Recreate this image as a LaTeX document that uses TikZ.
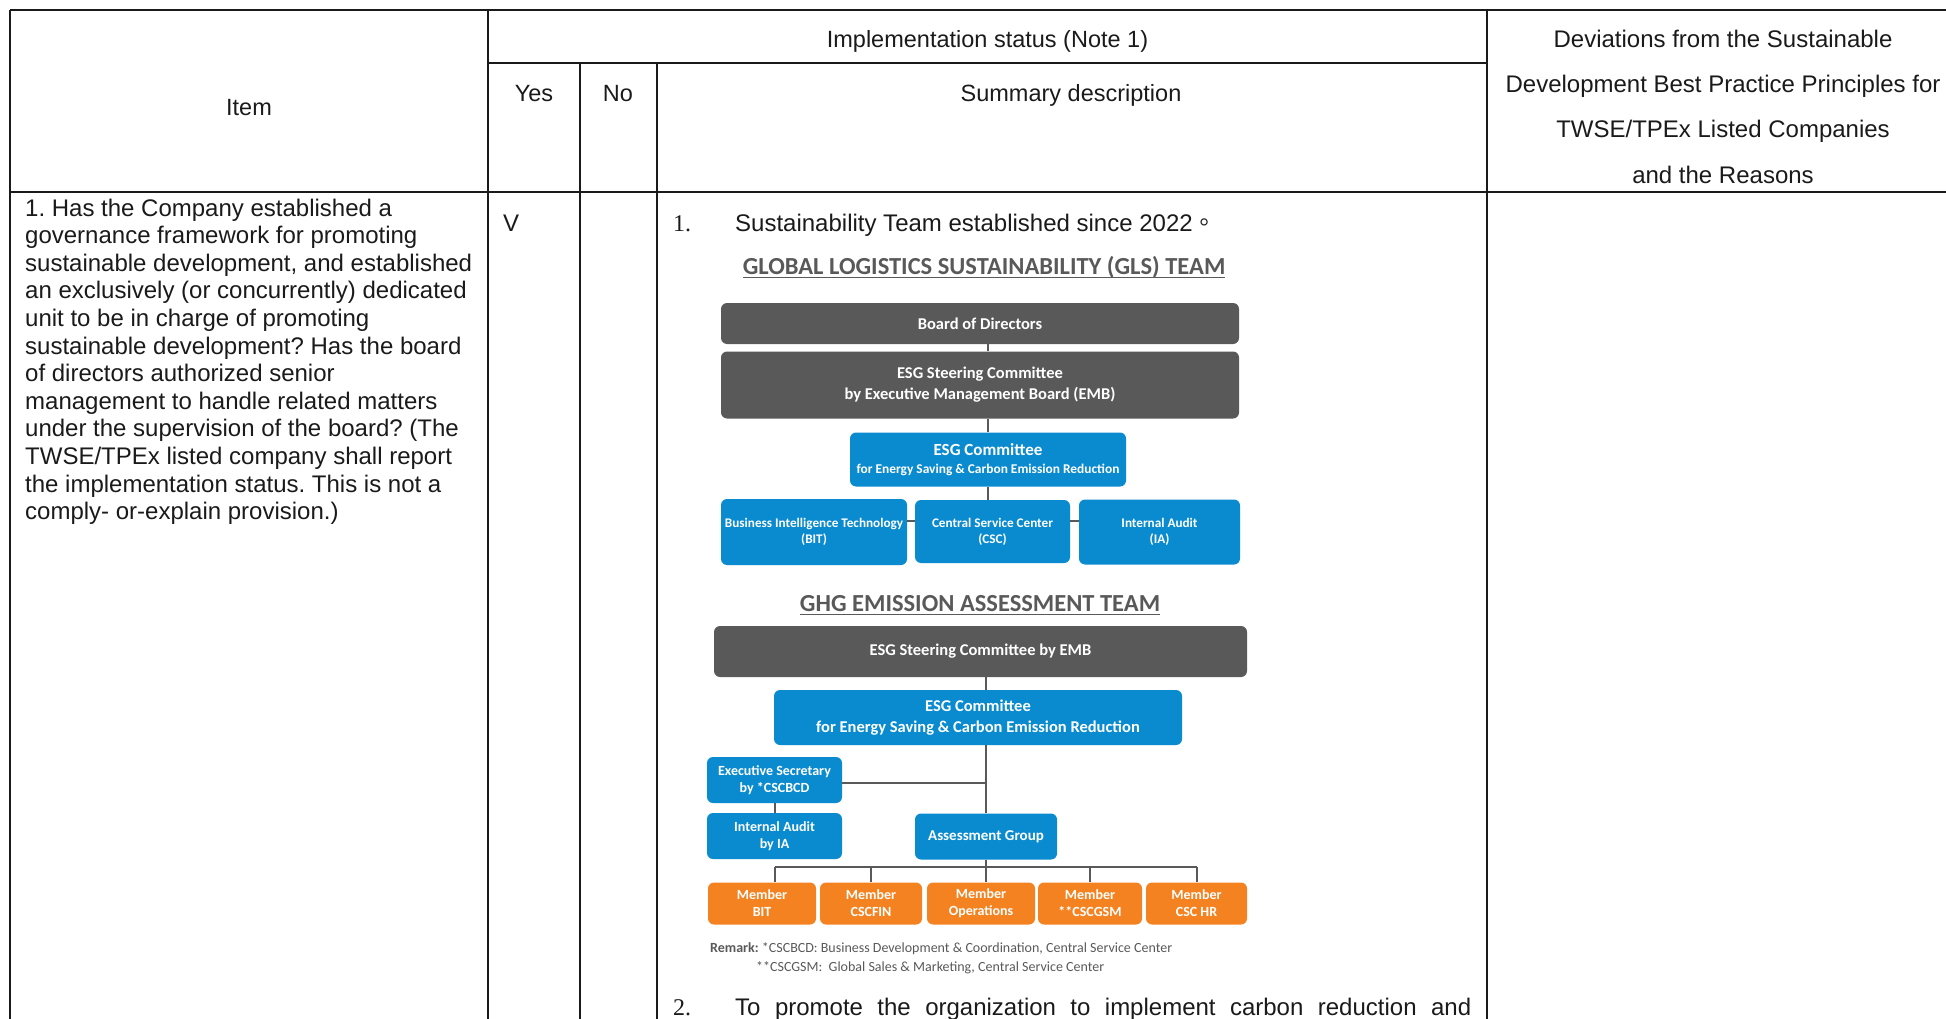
\documentclass[tikz,border=0pt]{standalone}
\usepackage{fontspec}
\setmainfont{Liberation Sans}
\newfontfamily\calfont{Carlito}
\newfontfamily\serfont{Liberation Serif}
\newfontfamily\cjkfont{Noto Sans CJK TC}
\definecolor{boxgray}{HTML}{595959}
\definecolor{boxblue}{HTML}{0A8BCF}
\definecolor{boxorange}{HTML}{F58220}
\definecolor{ink}{HTML}{1A1A1A}
\newcommand{\fsz}[2]{\fontsize{#1}{#2}\selectfont}
\frenchspacing

\begin{document}
\begin{tikzpicture}[x=1pt, y=-1pt,
  every node/.style={inner sep=0pt, text=ink},
  rule/.style={line width=2.4pt, draw=ink},
  cell/.style={font=\fsz{23.5}{28}, anchor=base},
  body/.style={font=\fsz{24}{27.6}},
  unit/.style={rounded corners=6pt, text=white, align=center, font=\calfont\bfseries\fsz{14}{17}},
  darkbox/.style={unit, fill=boxgray},
  bluebox/.style={unit, fill=boxblue},
  orangebox/.style={unit, fill=boxorange, minimum height=42pt},
  link/.style={line width=2pt, draw=boxgray},
  title/.style={font=\calfont\bfseries\fsz{24.5}{28}, text=boxgray, anchor=base},
  note/.style={font=\calfont\fsz{14}{16}, text=boxgray, anchor=base west}]
  \useasboundingbox (0,0) rectangle (1946,1019);
  \draw[rule] (10,10) -- (1960,10);
  \draw[rule] (488,63) -- (1487,63);
  \draw[rule] (10,192) -- (1960,192);
  \draw[rule] (10,10) -- (10,1030);
  \draw[rule] (488,10) -- (488,1030);
  \draw[rule] (580,63) -- (580,1030);
  \draw[rule] (657,63) -- (657,1030);
  \draw[rule] (1487,10) -- (1487,1030);
  \node[cell] (status) at (987.5,47.5) {Implementation status (Note 1)};
  \node[cell] (item) at (249,116) {Item};
  \node[cell] (yes) at (534,102) {Yes};
  \node[cell] (no) at (618,102) {No};
  \node[cell] (summary) at (1071,102) {Summary description};
  \node[font=\fsz{24}{45.3}, align=center, anchor=north] (deviation) at (1723,29.8) {Deviations from the Sustainable\\Development Best Practice Principles for\\TWSE/TPEx Listed Companies\\and the Reasons};
  \node[body, align=left, anchor=north west] (question) at (25,198.5) {1. Has the Company established a\\governance framework for promoting\\sustainable development, and established\\an exclusively (or concurrently) dedicated\\unit to be in charge of promoting\\sustainable development? Has the board\\of directors authorized senior\\management to handle related matters\\under the supervision of the board? (The\\TWSE/TPEx listed company shall report\\the implementation status. This is not a\\comply- or-explain provision.)};
  \node[body, anchor=base west] (tick) at (503,231.5) {V};
  \node[font=\serfont\fsz{24}{28}, anchor=base west] (num1) at (673,231.5) {1.};
  \node[body, anchor=base west] (point1) at (735,231.5) {Sustainability Team established since 2022{\cjkfont 。}};
  % GLS team
  \node[title] (glstitle) at (984,274) {GLOBAL LOGISTICS SUSTAINABILITY (GLS) TEAM};
  \draw[boxgray, line width=1.8pt] ([yshift=-3.5pt]glstitle.base west) -- ([yshift=-3.5pt]glstitle.base east);
  \node[darkbox, minimum width=518pt, minimum height=41pt, font=\calfont\bfseries\fsz{16.5}{21}] (board) at (980,323.5) {Board of Directors};
  \node[darkbox, minimum width=518pt, minimum height=67pt, font=\calfont\bfseries\fsz{16.5}{21}] (steer) at (980,385) {ESG Steering Committee\\by Executive Management Board (EMB)};
  \node[bluebox, minimum width=276pt, minimum height=54pt, font=\calfont\bfseries\fsz{13.4}{18}] (esgc) at (988,459.5) {{\fsz{17}{18}ESG Committee}\\for Energy Saving \& Carbon Emission Reduction};
  \node[bluebox, minimum width=186pt, minimum height=66pt, font=\calfont\bfseries\fsz{13.2}{16}] (bit) at (814,532) {Business Intelligence Technology\\(BIT)};
  \node[bluebox, minimum width=155pt, minimum height=63pt, font=\calfont\bfseries\fsz{13.2}{16}] (csc) at (992.5,531.5) {Central Service Center\\(CSC)};
  \node[bluebox, minimum width=161pt, minimum height=65pt, font=\calfont\bfseries\fsz{13.2}{16}] (ia) at (1159.5,532) {Internal Audit\\(IA)};
  \draw[link] (board.south -| esgc.north) -- (steer.north -| esgc.north);
  \draw[link] (steer.south -| esgc.north) -- (esgc.north);
  \draw[link] (esgc.south) -- (esgc.south |- csc.north);
  \draw[link] ([yshift=11pt]bit.east) -- ([yshift=11pt]bit.east -| csc.west);
  \draw[link] ([yshift=11pt]csc.east) -- ([yshift=11pt]csc.east -| ia.west);
  % GHG team
  \node[title] (ghgtitle) at (980,611) {GHG EMISSION ASSESSMENT TEAM};
  \draw[boxgray, line width=1.8pt] ([yshift=-3.5pt]ghgtitle.base west) -- ([yshift=-3.5pt]ghgtitle.base east);
  \node[darkbox, minimum width=533pt, minimum height=51pt, font=\calfont\bfseries\fsz{16.5}{21}] (gsteer) at (980.5,651.5) {ESG Steering Committee by EMB};
  \node[bluebox, minimum width=408pt, minimum height=55pt, font=\calfont\bfseries\fsz{16.5}{21}] (gesgc) at (978,717.5) {ESG Committee\\for Energy Saving \& Carbon Emission Reduction};
  \node[bluebox, minimum width=135pt, minimum height=46pt] (exsec) at (774.5,780) {Executive Secretary\\by *CSCBCD};
  \node[bluebox, minimum width=135pt, minimum height=46pt] (iaud) at (774.5,836) {Internal Audit\\by IA};
  \node[bluebox, minimum width=142pt, minimum height=46pt, font=\calfont\bfseries\fsz{15}{17}] (agrp) at (986,836.5) {Assessment Group};
  \node[orangebox, minimum width=108pt] (mbit) at (762,903.5) {Member\\BIT};
  \node[orangebox, minimum width=102pt] (mfin) at (871,903.5) {Member\\CSCFIN};
  \node[orangebox, minimum width=108pt] (mops) at (981,903.5) {Member\\Operations};
  \node[orangebox, minimum width=104pt] (mgsm) at (1090,903.5) {Member\\**CSCGSM};
  \node[orangebox, minimum width=101pt] (mhr) at (1196.5,903.5) {Member\\CSC HR};
  \draw[link] (gsteer.south -| agrp.north) -- (gesgc.north -| agrp.north);
  \draw[link] (gesgc.south -| agrp.north) -- (agrp.north);
  \draw[link] ([yshift=-3pt]exsec.east) -- ([yshift=-3pt]exsec.east -| agrp.north);
  \draw[link] (exsec.south) -- (iaud.north);
  \coordinate (bus) at ([yshift=-7pt]agrp.south);
  \draw[link] (agrp.south) -- (bus);
  \draw[link] (bus -| iaud.south) -- (bus -| mhr.north);
  \draw[link] (bus -| iaud.south) -- (mbit.north -| iaud.south);
  \draw[link] (bus -| mfin.north) -- (mfin.north);
  \draw[link] (bus -| agrp.south) -- (mops.north -| agrp.south);
  \draw[link] (bus -| mgsm.north) -- (mgsm.north);
  \draw[link] (bus -| mhr.north) -- (mhr.north);
  \node[note] (remark1) at (710,952) {\textbf{Remark:} *CSCBCD: Business Development \& Coordination, Central Service Center};
  \node[note] (remark2) at (756,971) {**CSCGSM:\ \ Global Sales \& Marketing, Central Service Center};
  \node[font=\serfont\fsz{24}{28}, anchor=base west] (num2) at (673,1015) {2.};
  \node[body, anchor=base west] (point2) at (735,1015) {\makebox[736pt][s]{To promote the organization to implement carbon reduction and}};
\end{tikzpicture}
\end{document}
